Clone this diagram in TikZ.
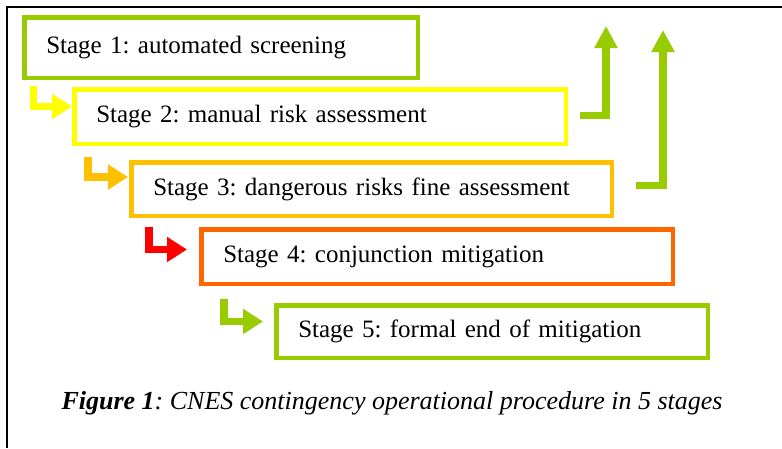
\documentclass[tikz,border=0pt]{standalone}
\usepackage{fontspec}
\setmainfont{Liberation Serif}
\usetikzlibrary{arrows.meta}
\frenchspacing
\begin{document}
\begin{tikzpicture}[x=1pt,y=-1pt,
  stagebox/.style={draw,line width=4.5pt,anchor=north west,inner xsep=22pt,inner ysep=0pt,align=left,font=\fontsize{25}{29}\selectfont},
  stepto/.style={line width=7.5pt,shorten >=#1,-{Triangle[length=20pt,width=24pt]}},
  backup/.style={draw=barGreen,line width=7.5pt,-{Triangle[length=22pt,width=22pt]}}]
\definecolor{barGreen}{RGB}{153,204,0}
\definecolor{barYellow}{RGB}{255,255,0}
\definecolor{barAmber}{RGB}{255,192,0}
\definecolor{barOrange}{RGB}{255,102,0}
\definecolor{barRed}{RGB}{255,0,0}
\path[use as bounding box,fill=white] (0,0) rectangle (782,448);
\draw[line width=1.5pt] (782,7) -- (7,7) -- (7,448);

% stages
\node[stagebox,draw=barGreen,minimum height=60.5pt,text width=349.5pt] (s1) at (22,15) {Stage 1: automated screening};
\node[stagebox,draw=barYellow,minimum height=54.5pt,text width=447.5pt] (s2) at (72,87) {Stage 2: manual risk assessment};
\node[stagebox,draw=barAmber,minimum height=53.5pt,text width=436.5pt] (s3) at (129,160) {Stage 3: dangerous risks fine assessment};
\node[stagebox,draw=barOrange,minimum height=54.5pt,text width=427.5pt] (s4) at (199,227) {Stage 4: conjunction mitigation};
\node[stagebox,draw=barGreen,minimum height=52.5pt,text width=387.5pt] (s5) at (274,303) {Stage 5: formal end of mitigation};

% going down
\coordinate (d1) at (33.5,86);
\coordinate (d2) at (88,157);
\coordinate (d3) at (149,227);
\coordinate (d4) at (224,299);
\draw[stepto=0pt,draw=barYellow] (d1) |- ([yshift=10pt]s2.west);
\draw[stepto=1pt,draw=barAmber] (d2) |- ([yshift=12pt]s3.west);
\draw[stepto=12pt,draw=barRed] (d3) |- ([yshift=7pt]s4.west);
\draw[stepto=11pt,draw=barGreen] (d4) |- ([yshift=10pt]s5.west);

% going back up
\coordinate (u2) at (606,26);
\coordinate (u3) at (663,30);
\draw[backup,shorten <=12pt] ([yshift=1pt]s2.east) -| (u2);
\draw[backup,shorten <=22pt] ([yshift=3.5pt]s3.east) -| (u3);

\node[font=\fontsize{26}{30}\selectfont\itshape,inner sep=0pt,anchor=base] (cap) at (392,409)
  {\textbf{Figure 1}: CNES contingency operational procedure in 5 stages};
\end{tikzpicture}
\end{document}
